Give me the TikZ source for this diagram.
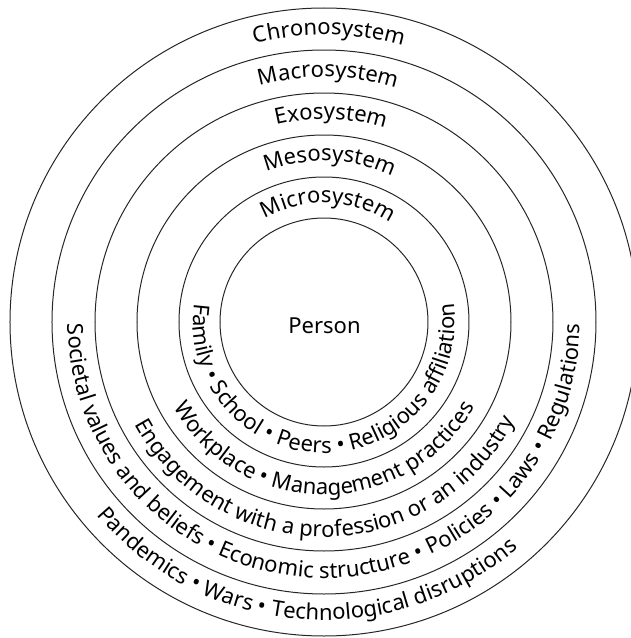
\documentclass[tikz,border=0pt]{standalone}
\usepackage{fontspec}
\setmainfont{Noto Sans}
\usetikzlibrary{decorations.text}
\newcommand{\ringfont}{\fontsize{22}{26}\selectfont}
\tikzset{
  ring/.style={draw=black!85, line width=1pt},
  ringtext/.style={decorate, decoration={text along path, text align=center, text={|\ringfont|#1}}}
}
\begin{document}
\begin{tikzpicture}[x=1pt, y=1pt]
    \useasboundingbox (-324,-316) rectangle (307,322);
    \clip (-324,-316) rectangle (307,322);

    % Circles (Person, Micro, Meso, Exo, Macro, Chrono)
    \foreach \r in {104,145,187,229,272,314}
        \draw[ring] (0,0) circle[radius=\r];

    % Centre
    \node[font=\ringfont, anchor=base] (person) at (0.5,-11) {Person};

    % System names along the top (clockwise arcs)
    \path[ringtext={Chronosystem}] (159:287) arc[start angle=159, end angle=19, radius=287];
    \path[ringtext={Macrosystem}]  (159:245) arc[start angle=159, end angle=19, radius=245];
    \path[ringtext={Exosystem}]    (158:203) arc[start angle=158, end angle=18, radius=203];
    \path[ringtext={Mesosystem}]   (158:161) arc[start angle=158, end angle=18, radius=161];
    \path[ringtext={Microsystem}]  (158:119) arc[start angle=158, end angle=18, radius=119];

    % Examples along the bottom (counter-clockwise arcs)
    \path[ringtext={Family • School • Peers • Religious affiliation}]
        (150:131) arc[start angle=150, end angle=390, radius=131];
    \path[ringtext={Workplace • Management practices}]
        (180:173) arc[start angle=180, end angle=360, radius=173];
    \path[ringtext={Engagement with a profession or an industry}]
        (180:215) arc[start angle=180, end angle=361, radius=215];
    \path[ringtext={Societal values and beliefs • Economic structure • Policies • Laws • Regulations}]
        (160:256) arc[start angle=160, end angle=380, radius=256];
    \path[ringtext={Pandemics • Wars • Technological disruptions}]
        (185:298) arc[start angle=185, end angle=346, radius=298];
\end{tikzpicture}
\end{document}
